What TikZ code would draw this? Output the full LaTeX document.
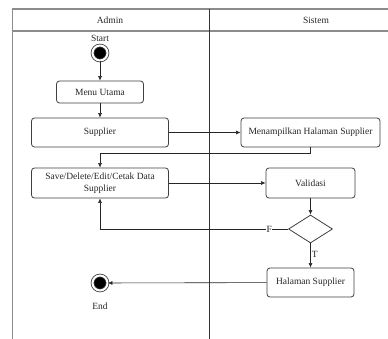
\documentclass[tikz,border=0pt]{standalone}
\usepackage{fontspec}
\setmainfont{Liberation Serif}
\usetikzlibrary{arrows.meta, shapes.geometric}

\begin{document}
\begin{tikzpicture}[x=1pt, y=-1pt, >={Latex[length=4.5pt,width=4pt]},
    every node/.style={font=\fontsize{9.5}{11.5}\selectfont, text=black!85},
    act/.style={rectangle, rounded corners=3pt, draw=black!75, line width=0.8pt, align=center, inner sep=1pt},
    dot/.style={circle, fill=black, draw=black!75, line width=0.8pt, double=white, double distance=2pt, minimum size=15pt, inner sep=0pt},
    cond/.style={diamond, draw=black!75, line width=0.8pt, aspect=1.57, minimum width=44pt, minimum height=28pt, inner sep=0pt},
    flow/.style={->, draw=black!85, line width=0.6pt},
    lane/.style={draw=black!45, line width=1.2pt}]
    \clip (0,0) rectangle (388,339);
    \fill[white] (0,0) rectangle (388,339);

    % swimlanes
    \draw[lane] (12.5,400) -- (12.5,9) -- (400,9);
    \draw[lane] (12.5,31) -- (400,31);
    \draw[lane, black!80, line width=0.8pt] (209,9) -- (209,400);
    \node (admin) at (110,20) {Admin};
    \node (sistem) at (316,20) {Sistem};

    \node (startlbl) at (100,38) {Start};
    \node[dot] (start) at (100,53) {};
    \node[act, minimum width=87pt, minimum height=22pt] (menu) at (100,92) {Menu Utama};
    \node[act, minimum width=137pt, minimum height=29pt] (supplier) at (100,132.5) {Supplier};
    \node[act, minimum width=139pt, minimum height=29pt] (tampil) at (310.5,132.5) {Menampilkan Halaman Supplier};
    \node[act, minimum width=137pt, minimum height=30pt] (save) at (100,183) {Save/Delete/Edit/Cetak Data\\Supplier};
    \node[act, minimum width=89pt, minimum height=30pt] (valid) at (310.5,183) {Validasi};
    \node[cond] (cek) at (310.5,229) {};
    \node[act, minimum width=87pt, minimum height=29pt] (hal) at (310.5,282.5) {Halaman Supplier};
    \node[dot] (end) at (100,283) {};
    \node (endlbl) at (100,306) {End};

    \draw[flow] (start) -- (menu);
    \draw[flow] (menu) -- (supplier);
    \draw[flow] (supplier) -- (tampil);
    \draw[flow] (tampil.south) -- ++(0,6) -| (save.north);
    \draw[flow] (save) -- (valid);
    \draw[flow] (valid) -- (cek);
    \draw[flow] (cek.west) -| node[pos=0.05, fill=white, inner sep=0.5pt] {F} (save.south);
    \draw[flow] (cek.south) -- node[right, pos=0.45, inner sep=1pt] {T} (hal.north);
    \draw[flow] (hal) -- (end);
\end{tikzpicture}
\end{document}
